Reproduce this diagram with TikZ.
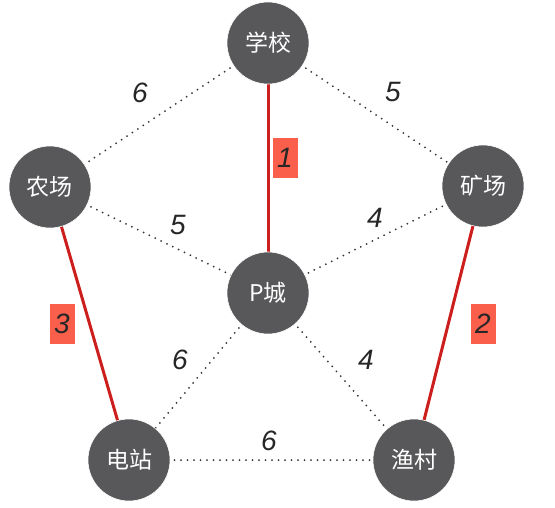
\documentclass[tikz,border=0pt]{standalone}
\usepackage{fontspec}
\newfontfamily\cjk{Noto Sans CJK SC}
\newfontfamily\numfont{Liberation Sans}
\usepackage{tikz}
\usetikzlibrary{calc}

\definecolor{town}{RGB}{88,88,90}
\definecolor{chosen}{RGB}{205,30,30}
\definecolor{tag}{RGB}{250,95,75}

\begin{document}
\begin{tikzpicture}[x=1pt, y=-1pt,
  town/.style={circle, fill=town, draw=white, line width=0.6pt, minimum size=82pt, inner sep=0pt,
    text=white, font=\cjk\fontsize{23}{23}\selectfont},
  road/.style={line width=2pt, line cap=round, dash pattern=on 0pt off 6.5pt, black!80},
  built/.style={line width=3pt, chosen},
  cost/.style={font=\numfont\itshape\fontsize{28}{28}\selectfont, text=black!85},
  pick/.style={cost, fill=tag, minimum width=25pt, minimum height=40pt, inner sep=0pt}]

\useasboundingbox (0,0) rectangle (555,507);

% Points
\coordinate (S) at (268,43);
\coordinate (F) at (50,187);
\coordinate (M) at (483,186);
\coordinate (P) at (268,293);
\coordinate (E) at (129,460);
\coordinate (Y) at (414,460);

% Roads
\draw[road] (S) -- (F);
\draw[road] (S) -- (M);
\draw[road] (F) -- (P);
\draw[road] (M) -- (P);
\draw[road] (P) -- (E);
\draw[road] (P) -- (Y);
\draw[road] (E) -- (Y);

% Chosen roads
\draw[built] (S) -- (P);
\draw[built] (F) -- (E);
\draw[built] (M) -- (Y);

% Towns
\node[town] (school) at (S) {学校};
\node[town] (farm) at (F) {农场};
\node[town] (mine) at (M) {矿场};
\node[town] (pcity) at (P) {P城};
\node[town] (plant) at (E) {电站};
\node[town] (fish) at (Y) {渔村};

% Costs
\node[cost] (c1) at (140,93) {6};
\node[cost] (c2) at (393,92) {5};
\node[cost] (c3) at (178,225) {5};
\node[cost] (c4) at (375,218) {4};
\node[cost] (c5) at (180,360) {6};
\node[cost] (c6) at (366,360) {4};
\node[cost] (c7) at (269,441) {6};

% Order of picks
\node[pick] (p1) at (285,158) {1};
\node[pick] (p2) at (483,324) {2};
\node[pick] (p3) at (62,324) {3};

\end{tikzpicture}
\end{document}
